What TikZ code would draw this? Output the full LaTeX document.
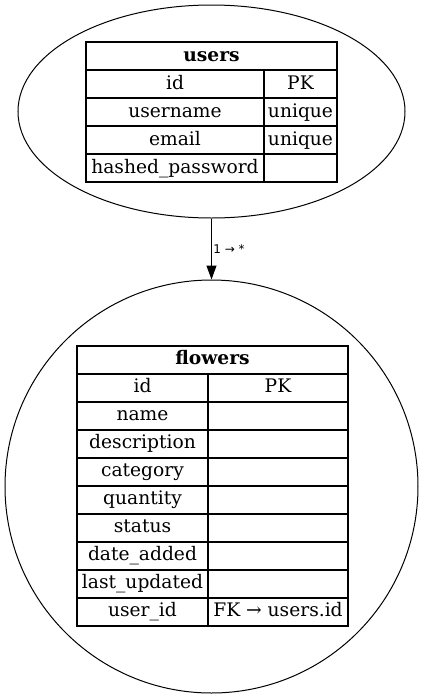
\documentclass[tikz,border=0pt]{standalone}
\usepackage{fontspec}
\setmainfont{DejaVu Serif}
\newfontfamily\lblfont{DejaVu Sans}
\usetikzlibrary{shapes.geometric,arrows.meta}

\begin{document}
\begin{tikzpicture}[x=0.75pt,y=-0.75pt,
  tbl/.style={line width=0.9pt},
  cell/.style={anchor=base,inner sep=0pt,font=\fontsize{14}{16}\selectfont},
  hdr/.style={cell,font=\fontsize{14}{16}\selectfont\bfseries},
  ent/.style={draw,line width=0.75pt,inner sep=0pt}]
\useasboundingbox (0,0) rectangle (424,697);

% entities
\node[ent,ellipse,minimum width=290.25pt,minimum height=159.75pt] (users) at (211.5,111.5) {};
\node[ent,circle,minimum size=309.75pt] (flowers) at (211.5,486.5) {};
\draw[-{Triangle[length=10.5pt,width=7.5pt]},line width=0.75pt] (users) -- (flowers)
  node[midway,anchor=west,inner sep=1pt,font=\lblfont\fontsize{9}{10}\selectfont] (rel) {1 → *};

% users table
\draw[tbl] (86,42) rectangle (337,182);
\foreach \y in {70,98,126,154}
\draw[tbl] (86,\y) -- (337,\y);
\draw[tbl] (264,70) -- (264,182);
\node[hdr] (uhead) at (211.5,61) {users};
\foreach \f/\k [count=\i] in {id/PK,username/unique,email/unique,hashed\_password/} {
  \node[cell] (ufield\i) at (175,61+28*\i) {\f};
  \node[cell] (ukey\i) at (300.5,61+28*\i) {\k};
}

% flowers table
\draw[tbl] (77,346) rectangle (348,626);
\foreach \y in {374,402,...,598}
\draw[tbl] (77,\y) -- (348,\y);
\draw[tbl] (208,374) -- (208,626);
\node[hdr] (fhead) at (212.5,364) {flowers};
\foreach \f/\k [count=\i] in {id/PK,name/,description/,category/,quantity/,status/,date\_added/,last\_updated/,user\_id/FK → users.id} {
  \node[cell] (ffield\i) at (142.5,364+28*\i) {\f};
  \node[cell] (fkey\i) at (278,364+28*\i) {\k};
}
\end{tikzpicture}
\end{document}
